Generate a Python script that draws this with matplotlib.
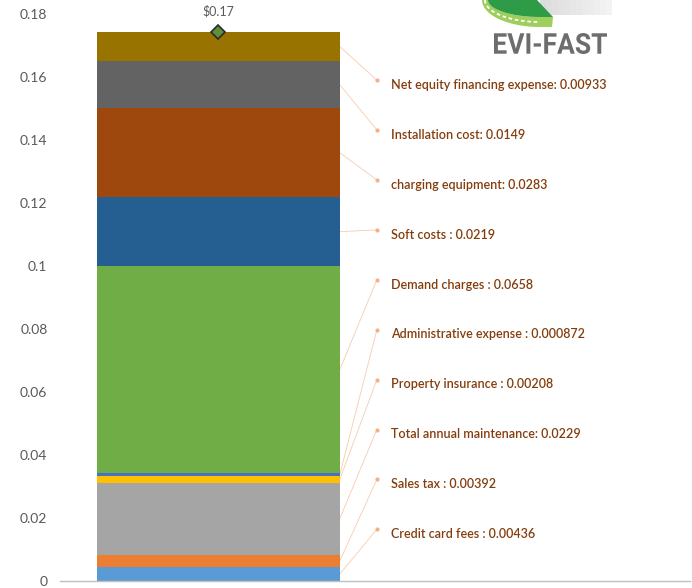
import numpy as np
import matplotlib.pyplot as plt
from matplotlib.patches import Polygon, Rectangle, PathPatch
from matplotlib.textpath import TextPath
from matplotlib.font_manager import FontProperties
from matplotlib.transforms import Affine2D

plt.rcParams['font.family'] = ['Lato', 'DejaVu Sans']

# cost components, stacked from the bottom up ($/kWh)
names = ['Credit card fees :', 'Sales tax :', 'Total annual maintenance:',
         'Property insurance :', 'Administrative expense :', 'Demand charges :',
         'Soft costs :', 'charging equipment:', 'Installation cost:',
         'Net equity financing expense:']
values = [0.00436, 0.00392, 0.0229, 0.00208, 0.000872, 0.0658,
          0.0219, 0.0283, 0.0149, 0.00933]
colors = ['#5B9BD5', '#ED7D31', '#A5A5A5', '#FFC000', '#4472C4', '#70AD47',
          '#255E91', '#9E480E', '#636363', '#997300']
total_label = '$0.17'
yticks = [0, 0.02, 0.04, 0.06, 0.08, 0.1, 0.12, 0.14, 0.16, 0.18]

fig = plt.figure(figsize=(6.92, 5.88), dpi=100)
ax = fig.add_axes([60 / 692, 1 - 581 / 588, 630 / 692, 567 / 588])

bar_x, bar_w = 0.251, 0.386
bottoms = np.concatenate([[0], np.cumsum(values)[:-1]])
for v, b, c in zip(values, bottoms, colors):
    ax.bar(bar_x, v, width=bar_w, bottom=b, color=c, linewidth=0, zorder=2)

total = sum(values)
ax.plot(bar_x, total, marker='D', markersize=7, markerfacecolor='#5E8F3A',
        markeredgecolor='#2B2B2B', markeredgewidth=1.2, zorder=4, clip_on=False)
ax.text(bar_x, total + 0.0045, total_label, ha='center', va='bottom',
        fontsize=9, color='#595959', clip_on=False)

# callouts to the right of the bar
label_y = np.linspace(0.0149, 0.1575, 10)
edge_x = bar_x + bar_w / 2
for name, v, b, ly in zip(names, values, bottoms, label_y):
    mid = b + v / 2
    ax.plot([edge_x, 0.503], [mid, ly + 0.0015], color='#F8CBAD', lw=0.6, zorder=1)
    ax.plot(0.503, ly + 0.0015, marker='o', markersize=2, color='#F4B183', zorder=1)
    ax.text(0.525, ly, f'{name} {v:g}', ha='left', va='center', fontsize=9,
            fontweight='semibold', color='#843C0C')

ax.set_xlim(0, 1)
ax.set_ylim(0, 0.18)
ax.set_yticks(yticks)
ax.set_yticklabels([f'{t:g}' for t in yticks])
ax.tick_params(axis='y', length=0, labelsize=10, labelcolor='#595959', pad=9)
ax.set_xticks([])
for s in ['top', 'right', 'left']:
    ax.spines[s].set_visible(False)
ax.spines['bottom'].set_color('#BFBFBF')
ax.spines['bottom'].set_linewidth(1)

# logo in the top right corner, drawn in pixel coordinates
lg = fig.add_axes([0, 0, 1, 1], zorder=5)
lg.set_xlim(0, 692)
lg.set_ylim(588, 0)
lg.axis('off')
for i in range(12):
    lg.add_patch(Rectangle((540 + i * 6, 0), 6, 15, color='#DCDCDC',
                           alpha=1 - i * 0.06, lw=0))
t = np.linspace(0, np.pi / 2, 40)
outer = np.column_stack([540 - 58 * np.cos(t), 27 * np.sin(t)])
inner = np.column_stack([540 - 52 * np.cos(t), 17 * np.sin(t)])
band = np.vstack([outer, [[552, 27], [553, 17]], inner[::-1]])
lg.add_patch(Polygon(band, closed=True, color='#8DC63F', alpha=0.85, lw=0))
dark = np.vstack([inner, [[553, 17], [537, 0]]])
lg.add_patch(Polygon(dark, closed=True, color='#2E9B47', lw=0))
lg.plot(540 - 55 * np.cos(t), 22 * np.sin(t), color='white', lw=1.3, ls=(0, (2, 1.5)))

tp = TextPath((0, 0), 'EVI-FAST', size=1, prop=FontProperties(family='Roboto', weight='bold'))
ext = tp.get_extents()
sx = 113 / ext.width
sy = 21 / ext.height
tr = Affine2D().translate(-ext.x0, -ext.y0).scale(sx, -sy).translate(494, 54)
lg.add_patch(PathPatch(tr.transform_path(tp), color='#6D6D6D', lw=0))

fig.savefig('out.png', dpi=100)
